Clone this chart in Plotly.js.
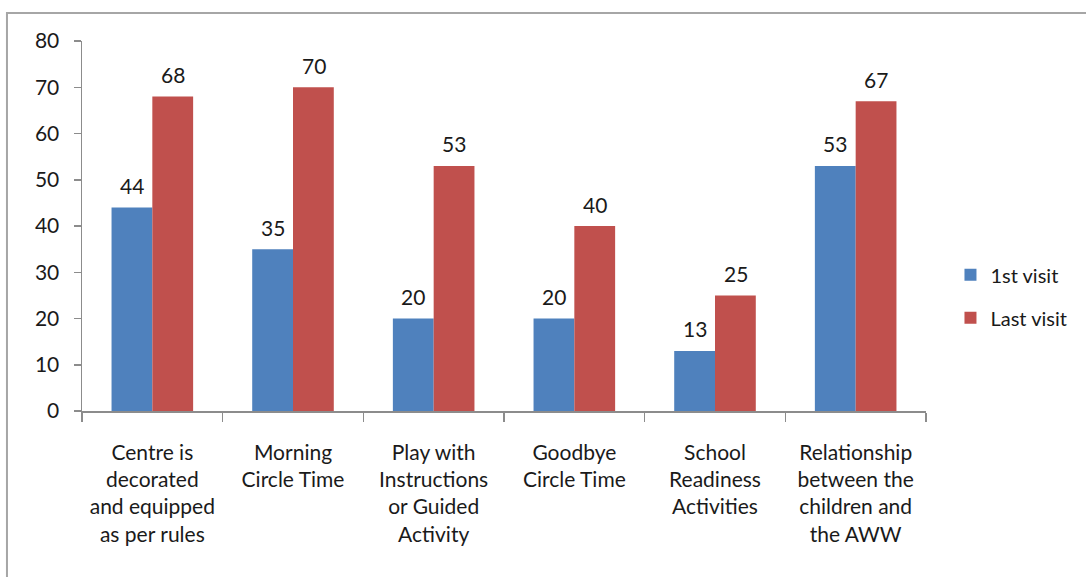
<!DOCTYPE html>
<html>
<head>
<meta charset="utf-8">
<script src="https://cdn.plot.ly/plotly-3.0.1.min.js"></script>
<style>
  html, body { margin: 0; padding: 0; background: #fff; }
  #chart { width: 1086px; height: 577px; }
</style>
</head>
<body>
<div id="chart"></div>
<script>
// Activity categories (multi-line labels as shown on the category axis)
const categories = [
  "Centre is<br>decorated<br>and equipped<br>as per rules",
  "Morning<br>Circle Time",
  "Play with<br>Instructions<br>or Guided<br>Activity",
  "Goodbye<br>Circle Time",
  "School<br>Readiness<br>Activities",
  "Relationship<br>between the<br>children and<br>the AWW"
];

const firstVisit = [44, 35, 20, 20, 13, 53];
const lastVisit  = [68, 70, 53, 40, 25, 67];

const seriesNames = ["1st visit", "Last visit"];
const yTicks = [0, 10, 20, 30, 40, 50, 60, 70, 80];

const BLUE = "#4F81BD";
const RED = "#C0504D";
const AXIS = "#8c8c8c";
const FONT = "Lato, 'Open Sans', 'DejaVu Sans', sans-serif";
const TEXT = "#1a1a1a";

const traces = [
  {
    type: "bar", name: seriesNames[0], x: categories, y: firstVisit,
    marker: { color: BLUE }, legendgroup: "a", hoverinfo: "x+y"
  },
  {
    type: "bar", name: seriesNames[1], x: categories, y: lastVisit,
    marker: { color: RED }, legendgroup: "b", hoverinfo: "x+y"
  }
];

// Value labels above each bar, offset to sit over its own bar within the group
const annotations = [];
const series = [firstVisit, lastVisit];
const shifts = [-20.5, 20.5];
series.forEach((vals, s) => {
  vals.forEach((v, i) => {
    annotations.push({
      x: categories[i], y: v, xref: "x", yref: "y",
      text: String(v), showarrow: false,
      xshift: shifts[s], yshift: 22,
      font: { family: FONT, size: 21, color: TEXT }
    });
  });
});

const layout = {
  width: 1086, height: 577,
  margin: { l: 82, r: 160, t: 41, b: 166 },
  paper_bgcolor: "#ffffff",
  plot_bgcolor: "#ffffff",
  font: { family: FONT, size: 21, color: TEXT },
  barmode: "group",
  bargap: 0.42,
  bargroupgap: 0,
  showlegend: true,
  legend: {
    x: 1.029, xanchor: "left", y: 0.31, yanchor: "middle",
    font: { family: FONT, size: 20, color: TEXT },
    traceorder: "grouped", tracegroupgap: 14,
    itemwidth: 30
  },
  xaxis: {
    type: "category",
    showline: true, linecolor: AXIS, linewidth: 1.5,
    ticks: "outside", tickson: "boundaries", ticklen: 9,
    tickcolor: AXIS, tickwidth: 1.5,
    showgrid: false, zeroline: false,
    ticklabelstandoff: 22,
    tickfont: { family: FONT, size: 21, color: TEXT }
  },
  yaxis: {
    range: [0, 80], tickvals: yTicks, ticktext: yTicks.map(String),
    showline: true, linecolor: AXIS, linewidth: 1.5,
    ticks: "outside", ticklen: 7, tickcolor: AXIS, tickwidth: 1.5,
    showgrid: false, zeroline: false,
    ticklabelstandoff: 10,
    tickfont: { family: FONT, size: 21, color: TEXT }
  },
  annotations: annotations,
  shapes: [
    {
      type: "rect", xref: "paper", yref: "paper",
      x0: -0.0889, x1: 1.3, y0: -0.6, y1: 1.0757,
      line: { color: "#a6a6a6", width: 2 }, fillcolor: "rgba(0,0,0,0)",
      layer: "below"
    }
  ]
};

Plotly.newPlot("chart", traces, layout, { displayModeBar: false, staticPlot: true });
</script>
</body>
</html>
